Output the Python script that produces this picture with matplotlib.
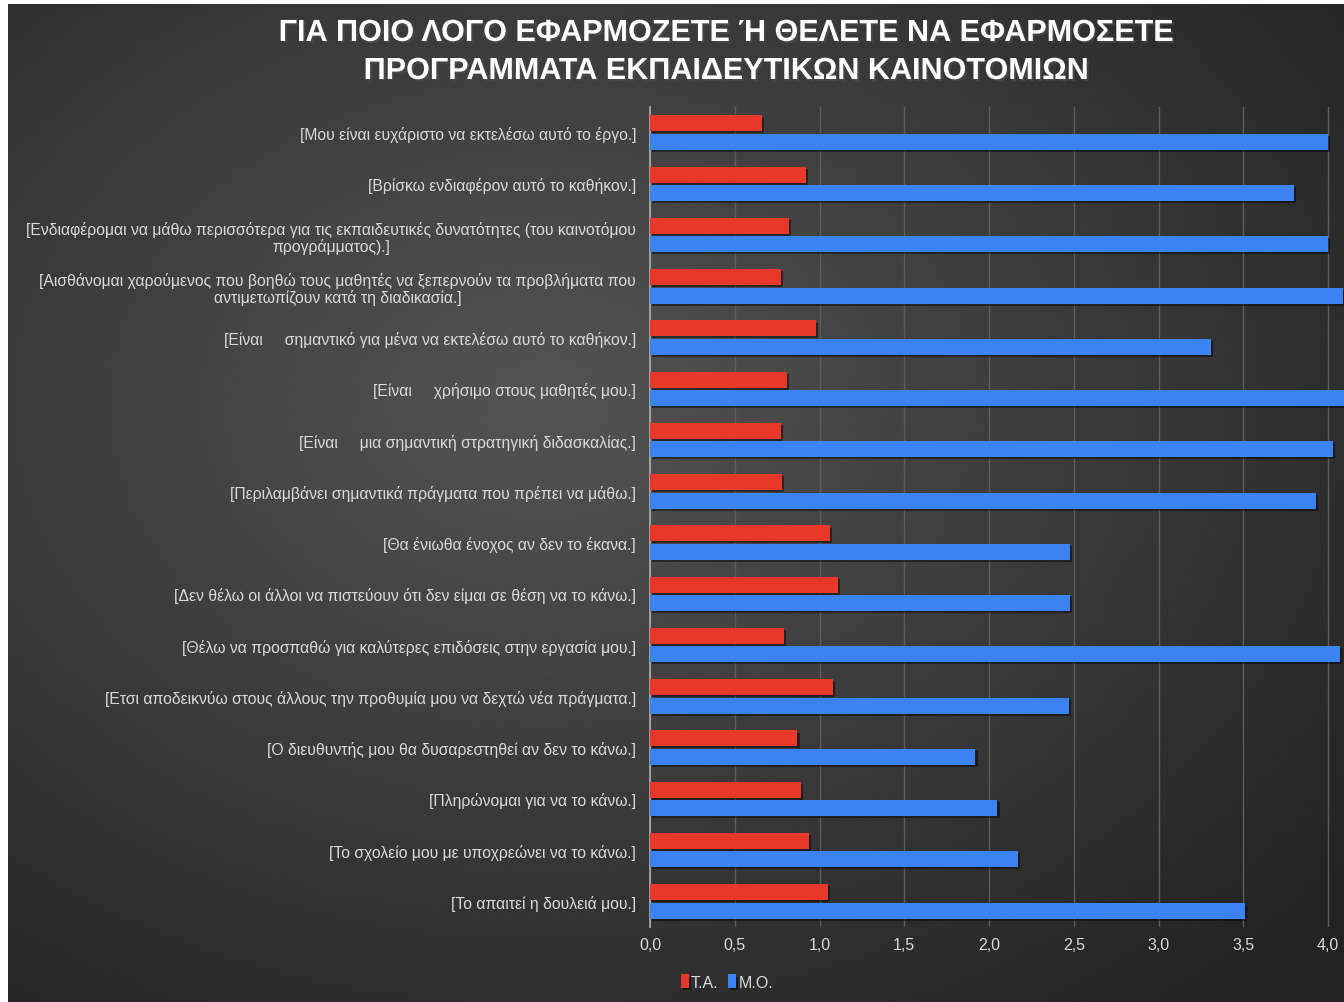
"""
Горизонтальная сгруппированная диаграмма: причины участия в программах
образовательных инноваций (среднее и стандартное отклонение).
"""

import matplotlib.pyplot as plt
import matplotlib.patheffects as pe
import numpy as np
from matplotlib.ticker import FuncFormatter

TITLE = "ΓΙΑ ΠΟΙΟ ΛΟΓΟ ΕΦΑΡΜΟΖΕΤΕ Ή ΘΕΛΕΤΕ ΝΑ ΕΦΑΡΜΟΣΕΤΕ\nΠΡΟΓΡΑΜΜΑΤΑ ΕΚΠΑΙΔΕΥΤΙΚΩΝ ΚΑΙΝΟΤΟΜΙΩΝ"

categories = [
    "[Μου είναι ευχάριστο να εκτελέσω αυτό το έργο.]",
    "[Βρίσκω ενδιαφέρον αυτό το καθήκον.]",
    "[Ενδιαφέρομαι να μάθω περισσότερα για τις εκπαιδευτικές δυνατότητες (του καινοτόμου\nπρογράμματος).]",
    "[Αισθάνομαι χαρούμενος που βοηθώ τους μαθητές να ξεπερνούν τα προβλήματα που\nαντιμετωπίζουν κατά τη διαδικασία.]",
    "[Είναι     σημαντικό για μένα να εκτελέσω αυτό το καθήκον.]",
    "[Είναι     χρήσιμο στους μαθητές μου.]",
    "[Είναι     μια σημαντική στρατηγική διδασκαλίας.]",
    "[Περιλαμβάνει σημαντικά πράγματα που πρέπει να μάθω.]",
    "[Θα ένιωθα ένοχος αν δεν το έκανα.]",
    "[Δεν θέλω οι άλλοι να πιστεύουν ότι δεν είμαι σε θέση να το κάνω.]",
    "[Θέλω να προσπαθώ για καλύτερες επιδόσεις στην εργασία μου.]",
    "[Ετσι αποδεικνύω στους άλλους την προθυμία μου να δεχτώ νέα πράγματα.]",
    "[Ο διευθυντής μου θα δυσαρεστηθεί αν δεν το κάνω.]",
    "[Πληρώνομαι για να το κάνω.]",
    "[Το σχολείο μου με υποχρεώνει να το κάνω.]",
    "[Το απαιτεί η δουλειά μου.]",
]

# Τ.Α. — стандартное отклонение, Μ.Ο. — среднее
ta_values = [0.66, 0.92, 0.82, 0.77, 0.98, 0.81, 0.77, 0.78,
             1.06, 1.11, 0.79, 1.08, 0.87, 0.89, 0.94, 1.05]
mo_values = [4.00, 3.80, 4.00, 4.09, 3.31, 4.12, 4.03, 3.93,
             2.48, 2.48, 4.07, 2.47, 1.92, 2.05, 2.17, 3.51]

series_names = ["Τ.Α.", "Μ.Ο."]

RED = "#e8372b"
BLUE = "#3b82f2"
TEXT = "#d9d9d9"

W, H, DPI = 1344, 1003, 100
fig = plt.figure(figsize=(W / DPI, H / DPI), dpi=DPI, facecolor="white")
plt.rcParams["font.family"] = ["Liberation Sans", "DejaVu Sans"]

# фон с радиальным градиентом
bg = fig.add_axes([8 / W, 0, 1 - 8 / W, 1 - 5 / H])
yy, xx = np.mgrid[0:1:600j, 0:1:800j]
r = np.sqrt(((xx - 0.40) / 0.8) ** 2 + ((yy - 0.40) / 0.8) ** 2)
shade = np.clip(0.33 - 0.20 * r, 0.14, 0.33)
bg.imshow(shade, cmap="gray", vmin=0, vmax=1, aspect="auto",
          extent=[0, 1, 1, 0], interpolation="bicubic")
bg.axis("off")

ax_left = 650 / W
ax_bottom = 1 - 928 / H
ax_top = 1 - 108 / H
ax = fig.add_axes([ax_left, ax_bottom, 1 - ax_left, ax_top - ax_bottom])
ax.set_facecolor("none")

n = len(categories)
y = np.arange(n)
bar_h = 0.31
shadow = [pe.SimplePatchShadow(offset=(1.5, -1.5), shadow_rgbFace="black", alpha=0.45), pe.Normal()]

ax.barh(y - 0.18, ta_values, height=bar_h, color=RED, label=series_names[0],
        path_effects=shadow, zorder=3)
ax.barh(y + 0.18, mo_values, height=bar_h, color=BLUE, label=series_names[1],
        path_effects=shadow, zorder=3)

ax.set_ylim(n - 0.5, -0.5)
ax.set_xlim(0, (W - 650) / 169.5)
ax.set_xticks(np.arange(0, 4.01, 0.5))
ax.xaxis.set_major_formatter(FuncFormatter(lambda v, _: f"{v:.1f}".replace(".", ",")))
ax.set_yticks(y)
ax.set_yticklabels(categories, multialignment="center", linespacing=1.1)

ax.grid(axis="x", color="#5c5c5c", linewidth=1, zorder=0)
for side in ["top", "right", "bottom"]:
    ax.spines[side].set_visible(False)
ax.spines["left"].set_color("#b0b0b0")
ax.spines["left"].set_linewidth(1.2)

ax.tick_params(axis="y", length=0, pad=10, labelsize=11.3, labelcolor=TEXT)
ax.tick_params(axis="x", length=0, pad=7, labelsize=11.5, labelcolor=TEXT)
for lbl in ax.get_xticklabels():
    lbl.set_clip_on(False)

fig.text(725 / W, 1 - 53 / H, TITLE, ha="center", va="center", color="white",
         fontsize=22, fontweight="bold", linespacing=1.35,
         path_effects=[pe.withSimplePatchShadow(offset=(1.5, -1.5), alpha=0.6)])

fig.legend(loc="center", bbox_to_anchor=(727 / W, 1 - 983 / H), ncol=2, frameon=False,
           handlelength=0.5, handleheight=0.9, handletextpad=0.15, columnspacing=0.6,
           fontsize=11.5, labelcolor=TEXT)

fig.savefig("out.png", dpi=DPI, facecolor="white")
